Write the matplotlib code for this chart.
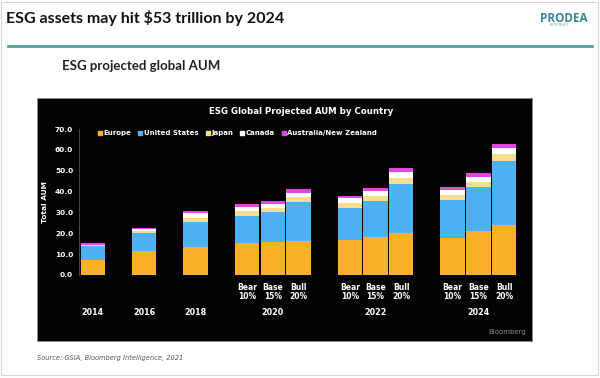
import matplotlib.pyplot as plt
from matplotlib.patches import Rectangle
from matplotlib.lines import Line2D
import numpy as np

# valori (trilioni di USD)
anni = ["2014", "2016", "2018", "2020", "2022", "2024"]
scenari = ["", "", "", "Bear\n10%", "Base\n15%", "Bull\n20%",
           "Bear\n10%", "Base\n15%", "Bull\n20%", "Bear\n10%", "Base\n15%", "Bull\n20%"]
posizioni = [0, 2, 4, 6, 7, 8, 10, 11, 12, 14, 15, 16]
pos_anni = [0, 2, 4, 7, 11, 15]

europa = [7.2, 11.7, 13.6, 15.2, 15.7, 16.3, 16.8, 18.1, 20.0, 17.9, 21.1, 24.0]
usa = [6.9, 8.6, 12.0, 13.2, 14.3, 18.6, 15.5, 17.5, 23.5, 18.1, 20.9, 30.7]
giappone = [0.2, 0.8, 1.9, 2.3, 2.3, 2.7, 2.1, 2.4, 3.2, 2.4, 2.7, 3.2]
canada = [0.3, 1.0, 2.1, 1.7, 1.7, 1.9, 2.4, 2.4, 2.5, 2.4, 2.4, 3.2]
australia = [0.6, 0.6, 1.1, 1.5, 1.5, 1.7, 1.2, 1.5, 1.9, 1.6, 1.6, 1.6]

serie = [("Europe", europa, "#fbb02a"),
         ("United States", usa, "#4db2f4"),
         ("Japan", giappone, "#f5df8e"),
         ("Canada", canada, "#ffffff"),
         ("Australia/New Zealand", australia, "#e046e6")]

fig = plt.figure(figsize=(6, 3.78), dpi=100)
fig.patch.set_facecolor("white")

W, H = 600, 378
def fx(px):
    return px / W
def fy(py):
    return 1 - py / H

# cornice e intestazione
fig.patches.append(Rectangle((fx(1), fy(375)), fx(597), 373 / H, transform=fig.transFigure,
                             fill=False, edgecolor="#d6d6d6", linewidth=0.8, zorder=-2))
fig.text(fx(6), fy(18), "ESG assets may hit $53 trillion by 2024", fontsize=11.5,
         fontweight="bold", family="Lato", color="#111111", va="center")
fig.text(fx(588), fy(18), "PRODEA", fontsize=8.5, fontweight="bold", family="Open Sans",
         color="#3c8598", ha="right", va="center")
fig.text(fx(560), fy(25), "INVESTMENTS", fontsize=2, color="#7aa6b0", ha="center", va="center")
fig.lines.append(Line2D([fx(8), fx(592)], [fy(46), fy(46)], transform=fig.transFigure,
                        color="#4ea3a6", linewidth=2))
fig.text(fx(62), fy(66), "ESG projected global AUM", fontsize=9.5, fontweight="bold",
         family="Lato", color="#222222", va="center")

# pannello nero
fig.patches.append(Rectangle((fx(37), fy(341)), (532 - 37) / W, (341 - 98) / H,
                             transform=fig.transFigure, facecolor="#050205",
                             edgecolor="#888888", linewidth=0.5, zorder=-1))
fig.text(fx(301), fy(112), "ESG Global Projected AUM by Country", fontsize=6.2,
         fontweight="bold", color="white", ha="center", va="center")
fig.text(fx(526), fy(332), "Bloomberg", fontsize=5, color="#8a8a8a", ha="right", va="center")
fig.text(fx(37), fy(358), "Source: GSIA, Bloomberg Intelligence, 2021", fontsize=4.8,
         style="italic", color="#555555", va="center")

ax = fig.add_axes([0.1312, 0.2725, 0.7431, 0.3862])
ax.set_facecolor("none")
ax.set_zorder(1)

base = np.zeros(len(posizioni))
for nome, valori, colore in serie:
    ax.bar(posizioni, valori, width=0.95, bottom=base, color=colore,
           linewidth=0, label=nome)
    base += np.array(valori)

ax.set_xlim(-0.55, 16.8)
ax.set_ylim(0, 70)
ax.set_yticks(np.arange(0, 71, 10))
ax.set_yticklabels([f"{v:.1f}" for v in np.arange(0, 71, 10)], fontsize=5.3,
                   fontweight="bold", color="white")
ax.tick_params(axis="y", length=0, pad=4)
ax.set_xticks(posizioni)
ax.set_xticklabels(scenari, fontsize=5.5, fontweight="bold", color="white", linespacing=1.0)
ax.tick_params(axis="x", length=0, pad=6)
for p, a in zip(pos_anni, anni):
    ax.text(p, -0.258, a, transform=ax.get_xaxis_transform(), ha="center", va="center",
            fontsize=5.8, fontweight="bold", color="white")

for s in ["top", "right", "bottom"]:
    ax.spines[s].set_visible(False)
ax.spines["left"].set_color("#666666")
ax.spines["left"].set_linewidth(0.5)

ax.set_ylabel("Total AUM", fontsize=5.3, fontweight="bold", color="white")
ax.yaxis.set_label_coords(-0.068, 0.5)

maniglie = [Line2D([], [], marker="s", linestyle="none", markersize=2.5,
                   markerfacecolor=c, markeredgecolor=c) for _, _, c in serie]
leg = fig.legend(maniglie, [n for n, _, _ in serie], loc="center left",
                 bbox_to_anchor=(fx(98), fy(133)), ncol=5, frameon=False,
                 fontsize=5, handlelength=0.6, handletextpad=0.2, columnspacing=1.0,
                 borderaxespad=0, borderpad=0)
for t in leg.get_texts():
    t.set_color("white")
    t.set_fontweight("bold")

plt.savefig("out.png", dpi=100, facecolor=fig.get_facecolor())
